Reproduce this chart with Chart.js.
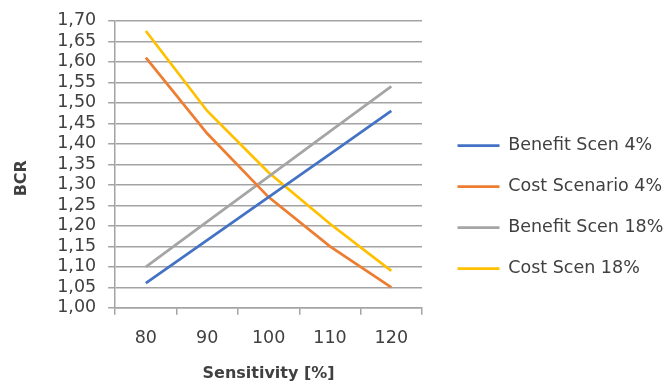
<!DOCTYPE html>
<html>
<head>
<meta charset="utf-8">
<script src="https://cdn.jsdelivr.net/npm/chart.js@4"></script>
<style>
    html, body { margin: 0; padding: 0; background: #fff; }
    #wrap { width: 666px; height: 383px; }
</style>
</head>
<body>
<div id="wrap"><canvas id="chart"></canvas></div>
<script>
const sensitivity = ['80', '90', '100', '110', '120'];
const benefitScen4 = [1.06, 1.165, 1.27, 1.375, 1.48];
const costScen4 = [1.61, 1.425, 1.27, 1.15, 1.05];
const benefitScen18 = [1.10, 1.21, 1.32, 1.43, 1.54];
const costScen18 = [1.675, 1.48, 1.33, 1.205, 1.09];

const FONT = 'DejaVu Sans';
const GRID = '#a3a3a3';
const TEXT = '#404040';

// fixed legend width + small nudge so the plot ends where the reference does
const legendFix = {
    id: 'legendFix',
    beforeInit(chart) {
        const lg = chart.legend;
        const fit = lg.fit;
        lg.fit = function () { fit.call(this); this.width = 244; };
    },
    afterUpdate(chart) {
        const lg = chart.legend;
        lg.left += 12; lg.right += 12;
        lg.top += 6; lg.bottom += 6;
    }
};

function series(label, data, color) {
    return { label, data, borderColor: color, backgroundColor: color, borderWidth: 2.75, pointRadius: 0, tension: 0 };
}

new Chart(document.getElementById('chart'), {
    type: 'line',
    data: {
        labels: sensitivity,
        datasets: [
            series('Benefit Scen 4%', benefitScen4, '#4472c4'),
            series('Cost Scenario 4%', costScen4, '#ed7d31'),
            series('Benefit Scen 18%', benefitScen18, '#a5a5a5'),
            series('Cost Scen 18%', costScen18, '#ffc000')
        ]
    },
    options: {
        responsive: true,
        maintainAspectRatio: false,
        animation: false,
        layout: { padding: { top: 19, left: 0, right: 0, bottom: 0 } },
        plugins: {
            legend: {
                position: 'right',
                labels: {
                    usePointStyle: true, pointStyle: 'line', pointStyleWidth: 42,
                    padding: 23.5, color: TEXT, font: { family: FONT, size: 17.5 }
                }
            },
            tooltip: { enabled: false }
        },
        scales: {
            x: {
                offset: true,
                grid: { offset: true, drawOnChartArea: false, drawTicks: true, tickLength: 7, color: GRID, lineWidth: 1.5 },
                border: { color: GRID, width: 1.5 },
                ticks: { color: TEXT, padding: 13, font: { family: FONT, size: 17.5 } },
                title: { display: true, text: 'Sensitivity [%]', color: TEXT, padding: { top: 2, bottom: 0 }, font: { family: FONT, size: 16, weight: 'bold' } }
            },
            y: {
                min: 1, max: 1.7,
                grid: { color: GRID, lineWidth: 1.5, tickLength: 7 },
                border: { color: GRID, width: 1.5 },
                ticks: { stepSize: 0.05, autoSkip: false, color: TEXT, padding: 12, font: { family: FONT, size: 17.5, lineHeight: 1 },
                    callback: v => v.toFixed(2).replace('.', ',') },
                title: { display: true, text: 'BCR     ', color: TEXT, padding: { top: 12, bottom: 14 }, font: { family: FONT, size: 16, weight: 'bold' } }
            }
        }
    },
    plugins: [legendFix]
});
</script>
</body>
</html>
